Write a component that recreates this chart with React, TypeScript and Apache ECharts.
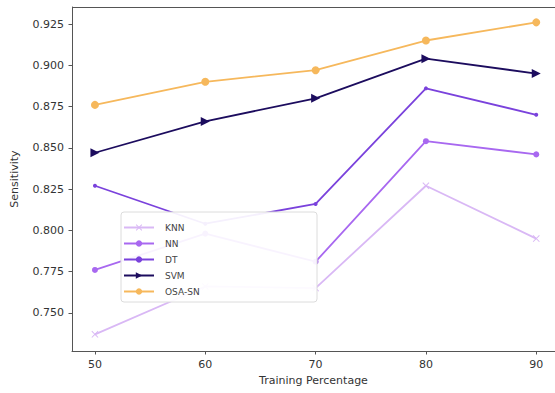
import React, { useEffect, useRef } from "react";
import * as echarts from "echarts";

const trainingPct = [50, 60, 70, 80, 90];
const knn = [0.737, 0.766, 0.765, 0.827, 0.795];
const nn = [0.776, 0.798, 0.781, 0.854, 0.846];
const dt = [0.827, 0.804, 0.816, 0.886, 0.870];
const svm = [0.847, 0.866, 0.880, 0.904, 0.895];
const osaSn = [0.876, 0.890, 0.897, 0.915, 0.926];
const yTicks = [0.75, 0.775, 0.8, 0.825, 0.85, 0.875, 0.9, 0.925];
const xTicks = [50, 60, 70, 80, 90];

const FONT = "DejaVu Sans";
const X_SYMBOL = "path://M0,1L1,0L5,4L9,0L10,1L6,5L10,9L9,10L5,6L1,10L0,9L4,5Z";

export default function App() {
  const ref = useRef<HTMLDivElement>(null);
  useEffect(() => {
    if (!ref.current) return;
    const chart = echarts.init(ref.current, null, { renderer: "svg" });
    const pts = (arr: number[]) => arr.map((v, i) => [trainingPct[i], v]);
    const mk = (name: string, arr: number[], color: string, symbol: string, size: number, rotate = 0) => ({
      name,
      type: "line",
      data: pts(arr),
      symbol,
      symbolSize: size,
      symbolRotate: rotate,
      showAllSymbol: true,
      lineStyle: { color, width: 1.8 },
      itemStyle: { color, borderColor: color, borderWidth: 0 },
      z: 2,
    });
    chart.setOption({
      animation: false,
      backgroundColor: "#ffffff",
      textStyle: { fontFamily: FONT },
      grid: { left: 72, right: 0, top: 7, bottom: 42, show: false },
      xAxis: {
        type: "value",
        min: 47.92,
        max: 91.7,
        name: "Training Percentage",
        nameLocation: "middle",
        nameGap: 21,
        nameTextStyle: { fontSize: 11, color: "#333", fontFamily: FONT },
        axisLine: { show: true, lineStyle: { color: "#555", width: 1 } },
        splitLine: { show: false },
        axisTick: { show: true, length: 3.5, lineStyle: { color: "#555" }, customValues: xTicks },
        axisLabel: { fontSize: 11, color: "#333", margin: 8, fontFamily: FONT, customValues: xTicks },
      },
      yAxis: {
        type: "value",
        min: 0.7269,
        max: 0.9353,
        name: "Sensitivity",
        nameLocation: "middle",
        nameGap: 52,
        nameTextStyle: { fontSize: 11, color: "#333", fontFamily: FONT },
        axisLine: { show: true, lineStyle: { color: "#555", width: 1 } },
        splitLine: { show: false },
        axisTick: { show: true, length: 3.5, lineStyle: { color: "#555" }, customValues: yTicks },
        axisLabel: {
          fontSize: 11,
          color: "#333",
          margin: 8,
          fontFamily: FONT,
          customValues: yTicks,
          formatter: (v: number) => v.toFixed(3),
        },
      },
      graphic: [
        {
          type: "line",
          z: 5,
          shape: { x1: 72, y1: 7.5, x2: 555, y2: 7.5 },
          style: { stroke: "#555", lineWidth: 1 },
        },
        {
          type: "rect",
          z: 50,
          shape: { x: 121, y: 212, width: 196, height: 90, r: 3 },
          style: { fill: "rgba(255,255,255,0.92)", stroke: "#dcdcdc", lineWidth: 1 },
        },
      ],
      legend: {
        z: 60,
        orient: "vertical",
        left: 118,
        top: 223,
        itemWidth: 30,
        itemHeight: 8,
        itemGap: 7,
        padding: [0, 0, 0, 5],
        textStyle: { fontSize: 9, color: "#444", fontFamily: FONT, padding: [0, 0, 0, 6] },
        data: ["KNN", "NN", "DT", "SVM", "OSA-SN"],
      },
      series: [
        mk("KNN", knn, "#d9b8f5", X_SYMBOL, 7),
        mk("NN", nn, "#a868f0", "circle", 6),
        mk("DT", dt, "#7a42dc", "circle", 4),
        mk("SVM", svm, "#1c0c5e", "triangle", 9, -90),
        mk("OSA-SN", osaSn, "#f6b85c", "circle", 8),
      ],
    });
    return () => chart.dispose();
  }, []);
  return <div ref={ref} style={{ width: 555, height: 393, position: "absolute", left: 0, top: 0 }} />;
}
